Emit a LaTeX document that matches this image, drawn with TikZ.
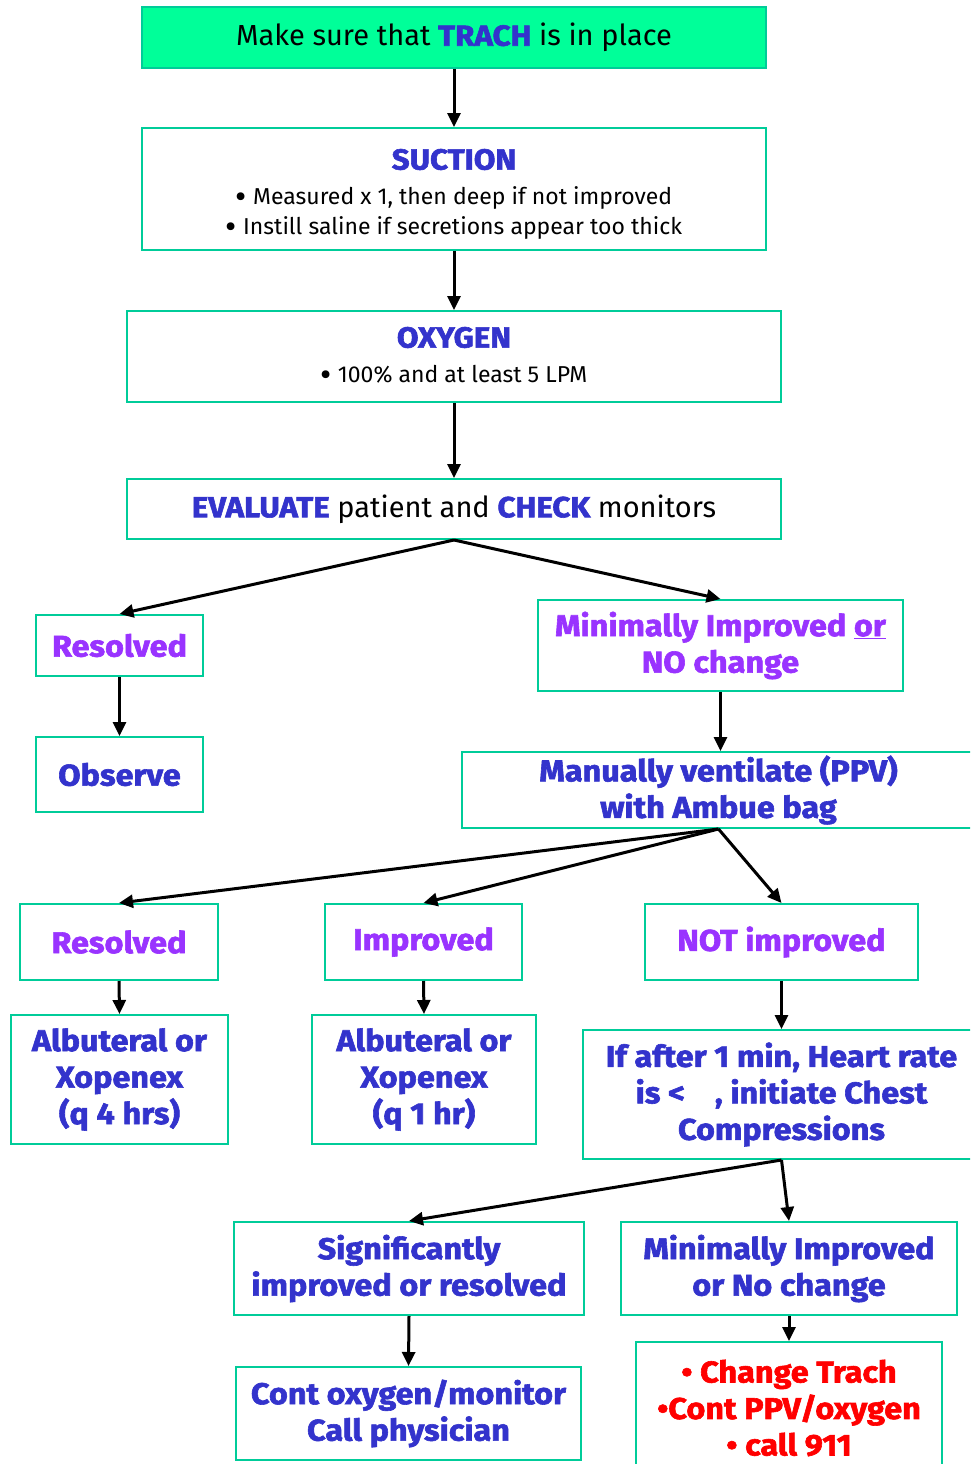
\documentclass[tikz,border=0pt]{standalone}
\usepackage{fontspec}
\setmainfont{Fira Sans}
\newfontfamily\hv{Fira Sans Bold}[FakeStretch=1.08,FakeBold=2]
\usetikzlibrary{arrows.meta}
\definecolor{tealb}{RGB}{0,204,153}
\definecolor{greenf}{RGB}{0,255,153}
\definecolor{bl}{RGB}{51,51,204}
\definecolor{pu}{RGB}{153,51,255}
\definecolor{rd}{RGB}{255,0,0}
\newcommand{\bul}{\raisebox{-3.5pt}{\scalebox{1.5}{\textbullet}}}
\tikzset{
  box/.style={draw=tealb,line width=2pt,rectangle,inner sep=0pt,align=center,fill=white},
  hd/.style={font=\hv\fontsize{30}{36.5}\selectfont},
  pl/.style={font=\fontsize{23}{30}\selectfont},
  arr/.style={line width=3pt,-{Triangle[length=14pt,width=13pt]}}
}
\begin{document}
\begin{tikzpicture}[x=1pt,y=-1pt]
\useasboundingbox (0,0) rectangle (970,1464);
\clip (0,0) rectangle (970,1464);
\node[box,fill=greenf,minimum width=624pt,minimum height=61pt,font=\fontsize{29}{32}\selectfont] (top) at (454,37.5) {Make sure that {\hv\color{bl}TRACH} is in place};
\node[box,pl,minimum width=624pt,minimum height=122pt] (suction) at (454,189) {\rule{0pt}{31pt}{\hv\fontsize{29}{30}\selectfont\color{bl}SUCTION}\\[5pt]\bul{} Measured x 1, then deep if not improved\\\bul{} Instill saline if secretions appear too thick};
\node[box,pl,minimum width=654pt,minimum height=91pt] (oxygen) at (454,356.5) {{\hv\fontsize{29}{30}\selectfont\color{bl}OXYGEN}\\[5pt]\bul{} 100\% and at least 5 LPM};
\node[box,minimum width=654pt,minimum height=60pt,font=\fontsize{29}{32}\selectfont] (eval) at (454,509) {{\hv\color{bl}EVALUATE} patient and {\hv\color{bl}CHECK} monitors};
\node[box,hd,text=pu,minimum width=167pt,minimum height=61pt] (res1) at (119.5,645.5) {Resolved};
\node[box,hd,text=pu,minimum width=365pt,minimum height=91pt] (minim) at (720.5,645.5) {Minimally Improved \underline{or}\\NO change};
\node[box,hd,text=bl,minimum width=167pt,minimum height=75pt] (observe) at (119.5,774.5) {Observe};
\node[box,hd,text=bl,minimum width=513pt,minimum height=76pt] (manual) at (718.5,790) {Manually ventilate (PPV)\\with Ambue bag};
\node[box,hd,text=pu,minimum width=198pt,minimum height=76pt] (res2) at (119,942) {Resolved};
\node[box,hd,text=pu,minimum width=197pt,minimum height=76pt] (impr) at (423.5,942) {Improved};
\node[box,hd,text=pu,minimum width=273pt,minimum height=76pt] (notimp) at (781.5,942) {NOT improved};
\node[box,hd,text=bl,minimum width=217pt,minimum height=129pt] (alb1) at (119.5,1079.5) {Albuteral or\\Xopenex\\(q 4 hrs)};
\node[box,hd,text=bl,minimum width=224pt,minimum height=129pt] (alb2) at (424,1079.5) {Albuteral or\\Xopenex\\(q 1 hr)};
\node[box,hd,text=bl,minimum width=397pt,minimum height=129pt] (ifafter) at (781.5,1094.5) {If after 1 min, Heart rate\\is <\hspace{30pt}, initiate Chest\\Compressions};
\node[box,hd,text=bl,minimum width=350pt,minimum height=93pt] (signif) at (409,1268.5) {Significantly\\improved or resolved};
\node[box,hd,text=bl,minimum width=336pt,minimum height=93pt] (minim2) at (789,1268.5) {Minimally Improved\\or No change};
\node[box,hd,text=bl,minimum width=345pt,minimum height=93pt] (cont) at (408.5,1413.5) {Cont oxygen/monitor\\Call physician};
\node[box,hd,text=rd,minimum width=306pt,minimum height=132pt] (change) at (789,1408) {\textbullet{} Change Trach\\\textbullet Cont PPV/oxygen\\\textbullet{} call 911};
\draw[arr] (top.south) -- (suction.north);
\draw[arr] (suction.south) -- (oxygen.north);
\draw[arr] (oxygen.south) -- (eval.north);
\draw[arr] (eval.south) -- (res1.north);
\draw[arr] (eval.south) -- (minim.north);
\draw[arr] (res1.south) -- (observe.north);
\draw[arr] (minim.south) -- (minim.south |- manual.north);
\draw[arr] (manual.south) -- (res2.north);
\draw[arr] (manual.south) -- (impr.north);
\draw[arr] (manual.south) -- (notimp.north);
\draw[arr] (res2.south) -- (alb1.north);
\draw[arr] (impr.south) -- (alb2.north);
\draw[arr] (notimp.south) -- (ifafter.north);
\draw[arr] (ifafter.south) -- (signif.north);
\draw[arr] (ifafter.south) -- (minim2.north);
\draw[arr] (signif.south) -- (cont.north);
\draw[arr] (minim2.south) -- (change.north);
\end{tikzpicture}
\end{document}
